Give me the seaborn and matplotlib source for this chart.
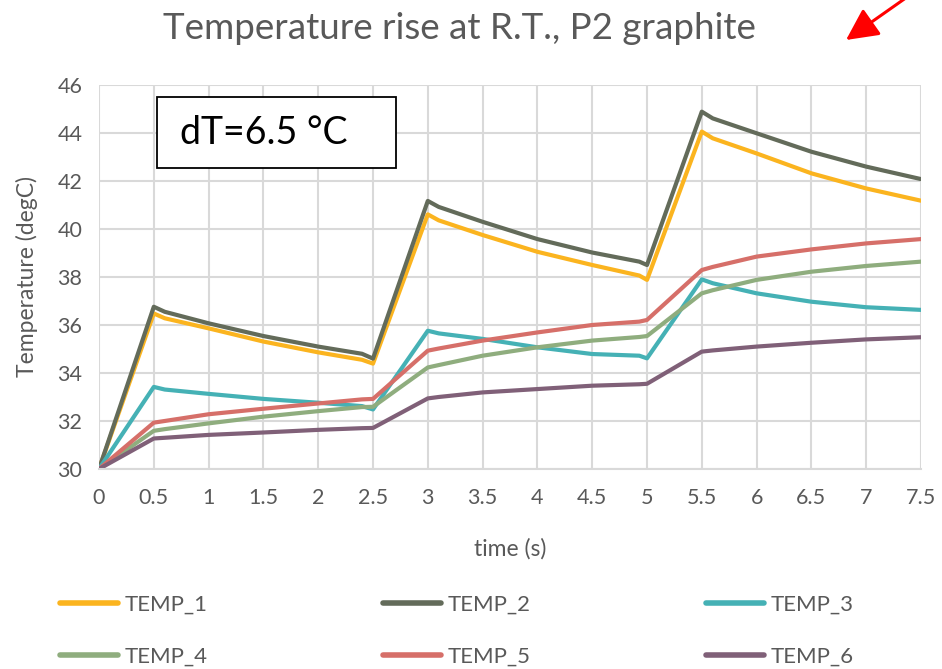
import numpy as np
import pandas as pd
import matplotlib
matplotlib.use("Agg")
import matplotlib.pyplot as plt
from matplotlib.patches import Rectangle, FancyArrowPatch
import seaborn as sns

# Time samples (s)
time_s = [0.0, 0.5, 0.6, 1.0, 1.5, 2.0, 2.4, 2.5, 3.0, 3.1, 3.5, 4.0, 4.5, 4.93,
          5.0, 5.5, 5.6, 6.0, 6.5, 7.0, 7.5]

# Thermocouple readings (degC)
temp_1 = [30.0, 36.48, 36.28, 35.86, 35.31, 34.86, 34.55, 34.39, 40.61, 40.36, 39.75,
          39.05, 38.50, 38.06, 37.88, 44.06, 43.78, 43.15, 42.32, 41.69, 41.18]
temp_2 = [30.0, 36.76, 36.55, 36.07, 35.54, 35.10, 34.80, 34.60, 41.17, 40.92, 40.30,
          39.58, 39.02, 38.64, 38.50, 44.89, 44.61, 43.99, 43.22, 42.60, 42.08]
temp_3 = [30.0, 33.42, 33.31, 33.13, 32.92, 32.76, 32.62, 32.48, 35.76, 35.65, 35.42,
          35.07, 34.79, 34.72, 34.61, 37.90, 37.74, 37.32, 36.97, 36.74, 36.63]
temp_4 = [30.0, 31.59, 31.66, 31.90, 32.18, 32.41, 32.58, 32.59, 34.23, 34.33, 34.72,
          35.07, 35.35, 35.50, 35.54, 37.32, 37.45, 37.88, 38.22, 38.46, 38.64]
temp_5 = [30.0, 31.93, 32.00, 32.28, 32.51, 32.73, 32.90, 32.92, 34.93, 35.02, 35.35,
          35.69, 36.00, 36.14, 36.21, 38.29, 38.42, 38.85, 39.15, 39.40, 39.58]
temp_6 = [30.0, 31.27, 31.30, 31.42, 31.52, 31.63, 31.70, 31.71, 32.94, 33.00, 33.19,
          33.33, 33.47, 33.53, 33.55, 34.89, 34.94, 35.10, 35.26, 35.40, 35.49]

series_names = ["TEMP_1", "TEMP_2", "TEMP_3", "TEMP_4", "TEMP_5", "TEMP_6"]
series_values = [temp_1, temp_2, temp_3, temp_4, temp_5, temp_6]
palette = ["#FBB41F", "#636B5A", "#45B1B5", "#8FAD7E", "#D66F69", "#806078"]

x_ticks = [0, 0.5, 1, 1.5, 2, 2.5, 3, 3.5, 4, 4.5, 5, 5.5, 6, 6.5, 7, 7.5]
x_tick_labels = ["0", "0.5", "1", "1.5", "2", "2.5", "3", "3.5", "4", "4.5",
                 "5", "5.5", "6", "6.5", "7", "7.5"]
y_ticks = [30, 32, 34, 36, 38, 40, 42, 44, 46]

title_text = "Temperature rise at R.T., P2 graphite"
note_text = "dT=6.5 \u00b0C"

frames = []
for name, vals in zip(series_names, series_values):
    frames.append(pd.DataFrame({"time": time_s, "temp": vals, "sensor": name}))
df = pd.concat(frames, ignore_index=True)

sns.set_theme(style="white")
plt.rcParams["font.family"] = ["Lato", "DejaVu Sans"]
text_gray = "#595959"

fig = plt.figure(figsize=(9.42, 6.69), dpi=100)
ax = fig.add_axes([0.1051, 0.2990, 0.8726, 0.5739])

sns.lineplot(data=df, x="time", y="temp", hue="sensor", hue_order=series_names,
             palette=palette, linewidth=3.0, ax=ax, legend=True, sort=False)

ax.set_xlim(0, 7.5)
ax.set_ylim(30, 46)
ax.set_xticks(x_ticks)
ax.set_xticklabels(x_tick_labels)
ax.set_yticks(y_ticks)
ax.grid(True, color="#D9D9D9", linewidth=1.5)
ax.set_axisbelow(True)
for side in ["top", "right", "left"]:
    ax.spines[side].set_visible(False)
ax.spines["bottom"].set_color("#D9D9D9")
ax.spines["bottom"].set_linewidth(1.5)
ax.tick_params(axis="both", length=0, labelsize=15.5, colors=text_gray)
ax.tick_params(axis="x", pad=14)
ax.tick_params(axis="y", pad=12)
ax.set_xlabel("time (s)", fontsize=16.5, color=text_gray, labelpad=21)
ax.set_ylabel("Temperature (degC)", fontsize=16.5, color=text_gray, labelpad=14)

fig.text(0.488, 0.958, title_text, ha="center", va="center", fontsize=26.5, color=text_gray)

# Annotation box
ax.add_patch(Rectangle((0.0706, 0.784), 0.2908, 0.185, transform=ax.transAxes,
                       facecolor="white", edgecolor="black", linewidth=1.3, zorder=5))
ax.text(0.0985, 0.876, note_text, transform=ax.transAxes, ha="left", va="center",
        fontsize=27, color="black", zorder=6)

# Red pointer arrow at the top right
fig.patches.append(FancyArrowPatch(
    (910 / 942, 1 + 5 / 669), (846 / 942, 1 - 40 / 669), transform=fig.transFigure,
    arrowstyle="-|>,head_length=13,head_width=6.5", color="#FF0000", linewidth=2.2,
    mutation_scale=1.5, shrinkA=0, shrinkB=0))

# Legend below the plot, three entries per row
handles, labels = ax.get_legend_handles_labels()
ax.get_legend().remove()
order = [0, 3, 1, 4, 2, 5]
leg = fig.legend([handles[i] for i in order], [labels[i] for i in order],
                 loc="upper left", bbox_to_anchor=(0.0635, 0.111), ncol=3,
                 frameon=False, fontsize=16, handlelength=2.6, handletextpad=0.3,
                 columnspacing=7.9, labelspacing=1.45, borderaxespad=0, borderpad=0)
for t in leg.get_texts():
    t.set_color(text_gray)
for h in leg.legend_handles:
    h.set_linewidth(4)

fig.savefig("out.png", dpi=100)
